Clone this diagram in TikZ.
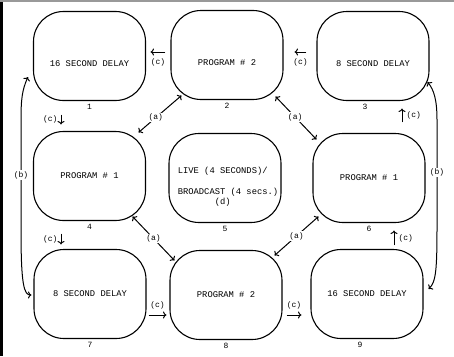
\documentclass[tikz,border=0pt]{standalone}
\usepackage{fontspec}
\newfontfamily\typewriter{Liberation Mono}
\usetikzlibrary{arrows.meta}

\begin{document}
\begin{tikzpicture}[x=1pt, y=-1pt,
  tv/.style={draw, line width=1.1pt, rounded corners=30pt, minimum width=112pt, minimum height=89pt, font=\typewriter\fontsize{8.8}{10}\selectfont},
  rowone/.style={text height=20pt, text depth=0pt},
  num/.style={font=\typewriter\fontsize{8}{9}\selectfont, inner sep=1pt, label distance=1.5pt},
  link/.style={line width=1pt, -{To[length=3.5pt,width=7pt]}},
  twoway/.style={line width=1pt, {To[length=3.5pt,width=7pt]}-{To[length=3.5pt,width=7pt]}},
  tag/.style={font=\typewriter\fontsize{8}{9}\selectfont, inner sep=1pt}]
\useasboundingbox (0,0) rectangle (454,356);
\fill (0,0) rectangle (3,356);
\fill[black!40] (0,0) rectangle (454,1.5);

% screens
\node[tv, rowone, label={[num]below:1}] (s1) at (89.5,56) {16 SECOND DELAY};
\node[tv, rowone, label={[num]below:2}] (s2) at (227,55) {PROGRAM \# 2};
\node[tv, rowone, label={[num, xshift=-8pt]below:3}] (s3) at (373,56) {8 SECOND DELAY};
\node[tv, label={[num]below:4}] (s4) at (89.5,176) {PROGRAM \# 1};
\node[tv, label={[num]below:5}] (s5) at (225,178) {};
\node[tv, label={[num]below:6}] (s6) at (369,178) {PROGRAM \# 1};
\node[tv, label={[num]below:7}] (s7) at (90,294) {8 SECOND DELAY};
\node[tv, label={[num]below:8}] (s8) at (226,295) {PROGRAM \# 2};
\node[tv, label={[num, xshift=-7pt]below:9}] (s9) at (367,294) {16 SECOND DELAY};
\node[align=left, font=\typewriter\fontsize{8.8}{10}\selectfont] (live) at (228,187)
  {LIVE (4 SECONDS)/\\[11pt]BROADCAST (4 secs.)\\\hspace*{37pt}(d)};

% (c) switching
\draw[link] ([shift={(-5,-3)}]s2.west) -- node[tag, below=5pt] {(c)} ([shift={(4.5,-4)}]s1.east);
\draw[link] ([shift={(-10,-4)}]s3.west) -- node[tag, below=5pt] {(c)} ([shift={(11,-3)}]s2.east);
\draw[link] ([shift={(-28.5,13.5)}]s1.south) -- node[tag, left=2pt] {(c)} ([shift={(-28.5,-6.5)}]s4.north);
\draw[link] ([shift={(-28.5,12.5)}]s4.south) -- node[tag, left=2pt] {(c)} ([shift={(-29,-4.5)}]s7.north);
\draw[link] ([shift={(2,21)}]s7.east) -- node[tag, above=4pt] {(c)} ([shift={(-3,20)}]s8.west);
\draw[link] ([shift={(4,20)}]s8.east) -- node[tag, above=4pt] {(c)} ([shift={(-9,21)}]s9.west);
\draw[link] ([shift={(27,-3.5)}]s9.north) -- node[tag, right=3pt] {(c)} ([shift={(25,7.5)}]s6.south);
\draw[link] ([shift={(33,-10.5)}]s6.north) -- node[tag, right=3pt] {(c)} ([shift={(29,7.5)}]s3.south);

% (a) links
\draw[twoway] ([shift={(11,-4.5)}]s2.south west) -- node[tag, fill=white, pos=0.6] {(a)} ([shift={(-7.5,1.5)}]s4.north east);
\draw[twoway] ([shift={(-8,-3.5)}]s2.south east) -- node[tag, fill=white, pos=0.48] {(a)} ([shift={(4,6.5)}]s6.north west);
\draw[twoway] ([shift={(-13.5,-4.5)}]s4.south east) -- node[tag, fill=white] {(a)} ([shift={(5,10.5)}]s8.north west);
\draw[twoway] ([shift={(-8,5.5)}]s8.north east) -- node[tag, fill=white] {(a)} ([shift={(6,-6.5)}]s6.south west);

% (b) links
\draw[twoway] ([shift={(-5,21)}]s1.west) .. controls (22,90) and (21,100) .. (21,120)
  -- node[tag, fill=white] {(b)} (21,230) .. controls (21,285) and (24,295) .. ([shift={(-2,1)}]s7.west);
\draw[twoway] ([shift={(-2,26)}]s3.east) .. controls (434,90) and (437,100) .. (437,120)
  -- node[tag, fill=white] {(b)} (437,225) .. controls (437,270) and (436,282) .. ([shift={(5,-5)}]s9.east);
\end{tikzpicture}
\end{document}
